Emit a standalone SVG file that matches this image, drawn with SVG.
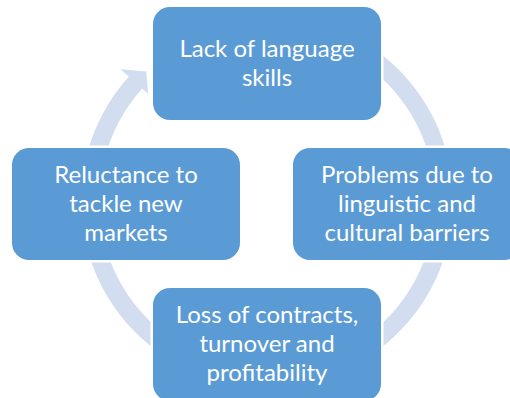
<svg xmlns="http://www.w3.org/2000/svg" width="510" height="398" viewBox="0 0 510 398">
<style>
.box{fill:#5B9BD5;stroke:#FFFFFF;stroke-width:5;paint-order:stroke}
.lbl{fill:#FFFFFF;font-family:Lato,"Liberation Sans",sans-serif;font-size:24px;text-anchor:middle}
.ring{fill:#D2DDEF}
</style>
<rect width="510" height="398" fill="#FFFFFF"/>
<g id="connectors">
<path class="ring" d="M 203.4 26.2 A 186 186 0 1 1 128.8 76.5 L 120.6 69.2 L 146.3 71.5 L 148.1 93.9 L 142.2 88.6 A 168 168 0 1 0 209.5 43.1 Z"/>
</g>
<g id="node-top">
<rect class="box" x="153" y="7" width="228" height="113" rx="17"/>
<text class="lbl" x="267" y="57">Lack of language</text>
<text class="lbl" x="267" y="86">skills</text>
</g>
<g id="node-right">
<rect class="box" x="293" y="148" width="228" height="112" rx="17"/>
<text class="lbl" x="407" y="183">Problems due to</text>
<text class="lbl" x="407" y="212">linguistic and</text>
<text class="lbl" x="407" y="241">cultural barriers</text>
</g>
<g id="node-bottom">
<rect class="box" x="153" y="288" width="228" height="113" rx="17"/>
<text class="lbl" x="267" y="323">Loss of contracts,</text>
<text class="lbl" x="267" y="352">turnover and</text>
<text class="lbl" x="267" y="381">profitability</text>
</g>
<g id="node-left">
<rect class="box" x="12" y="148" width="228" height="112" rx="17"/>
<text class="lbl" x="126" y="183">Reluctance to</text>
<text class="lbl" x="126" y="212">tackle new</text>
<text class="lbl" x="126" y="241">markets</text>
</g>
</svg>
